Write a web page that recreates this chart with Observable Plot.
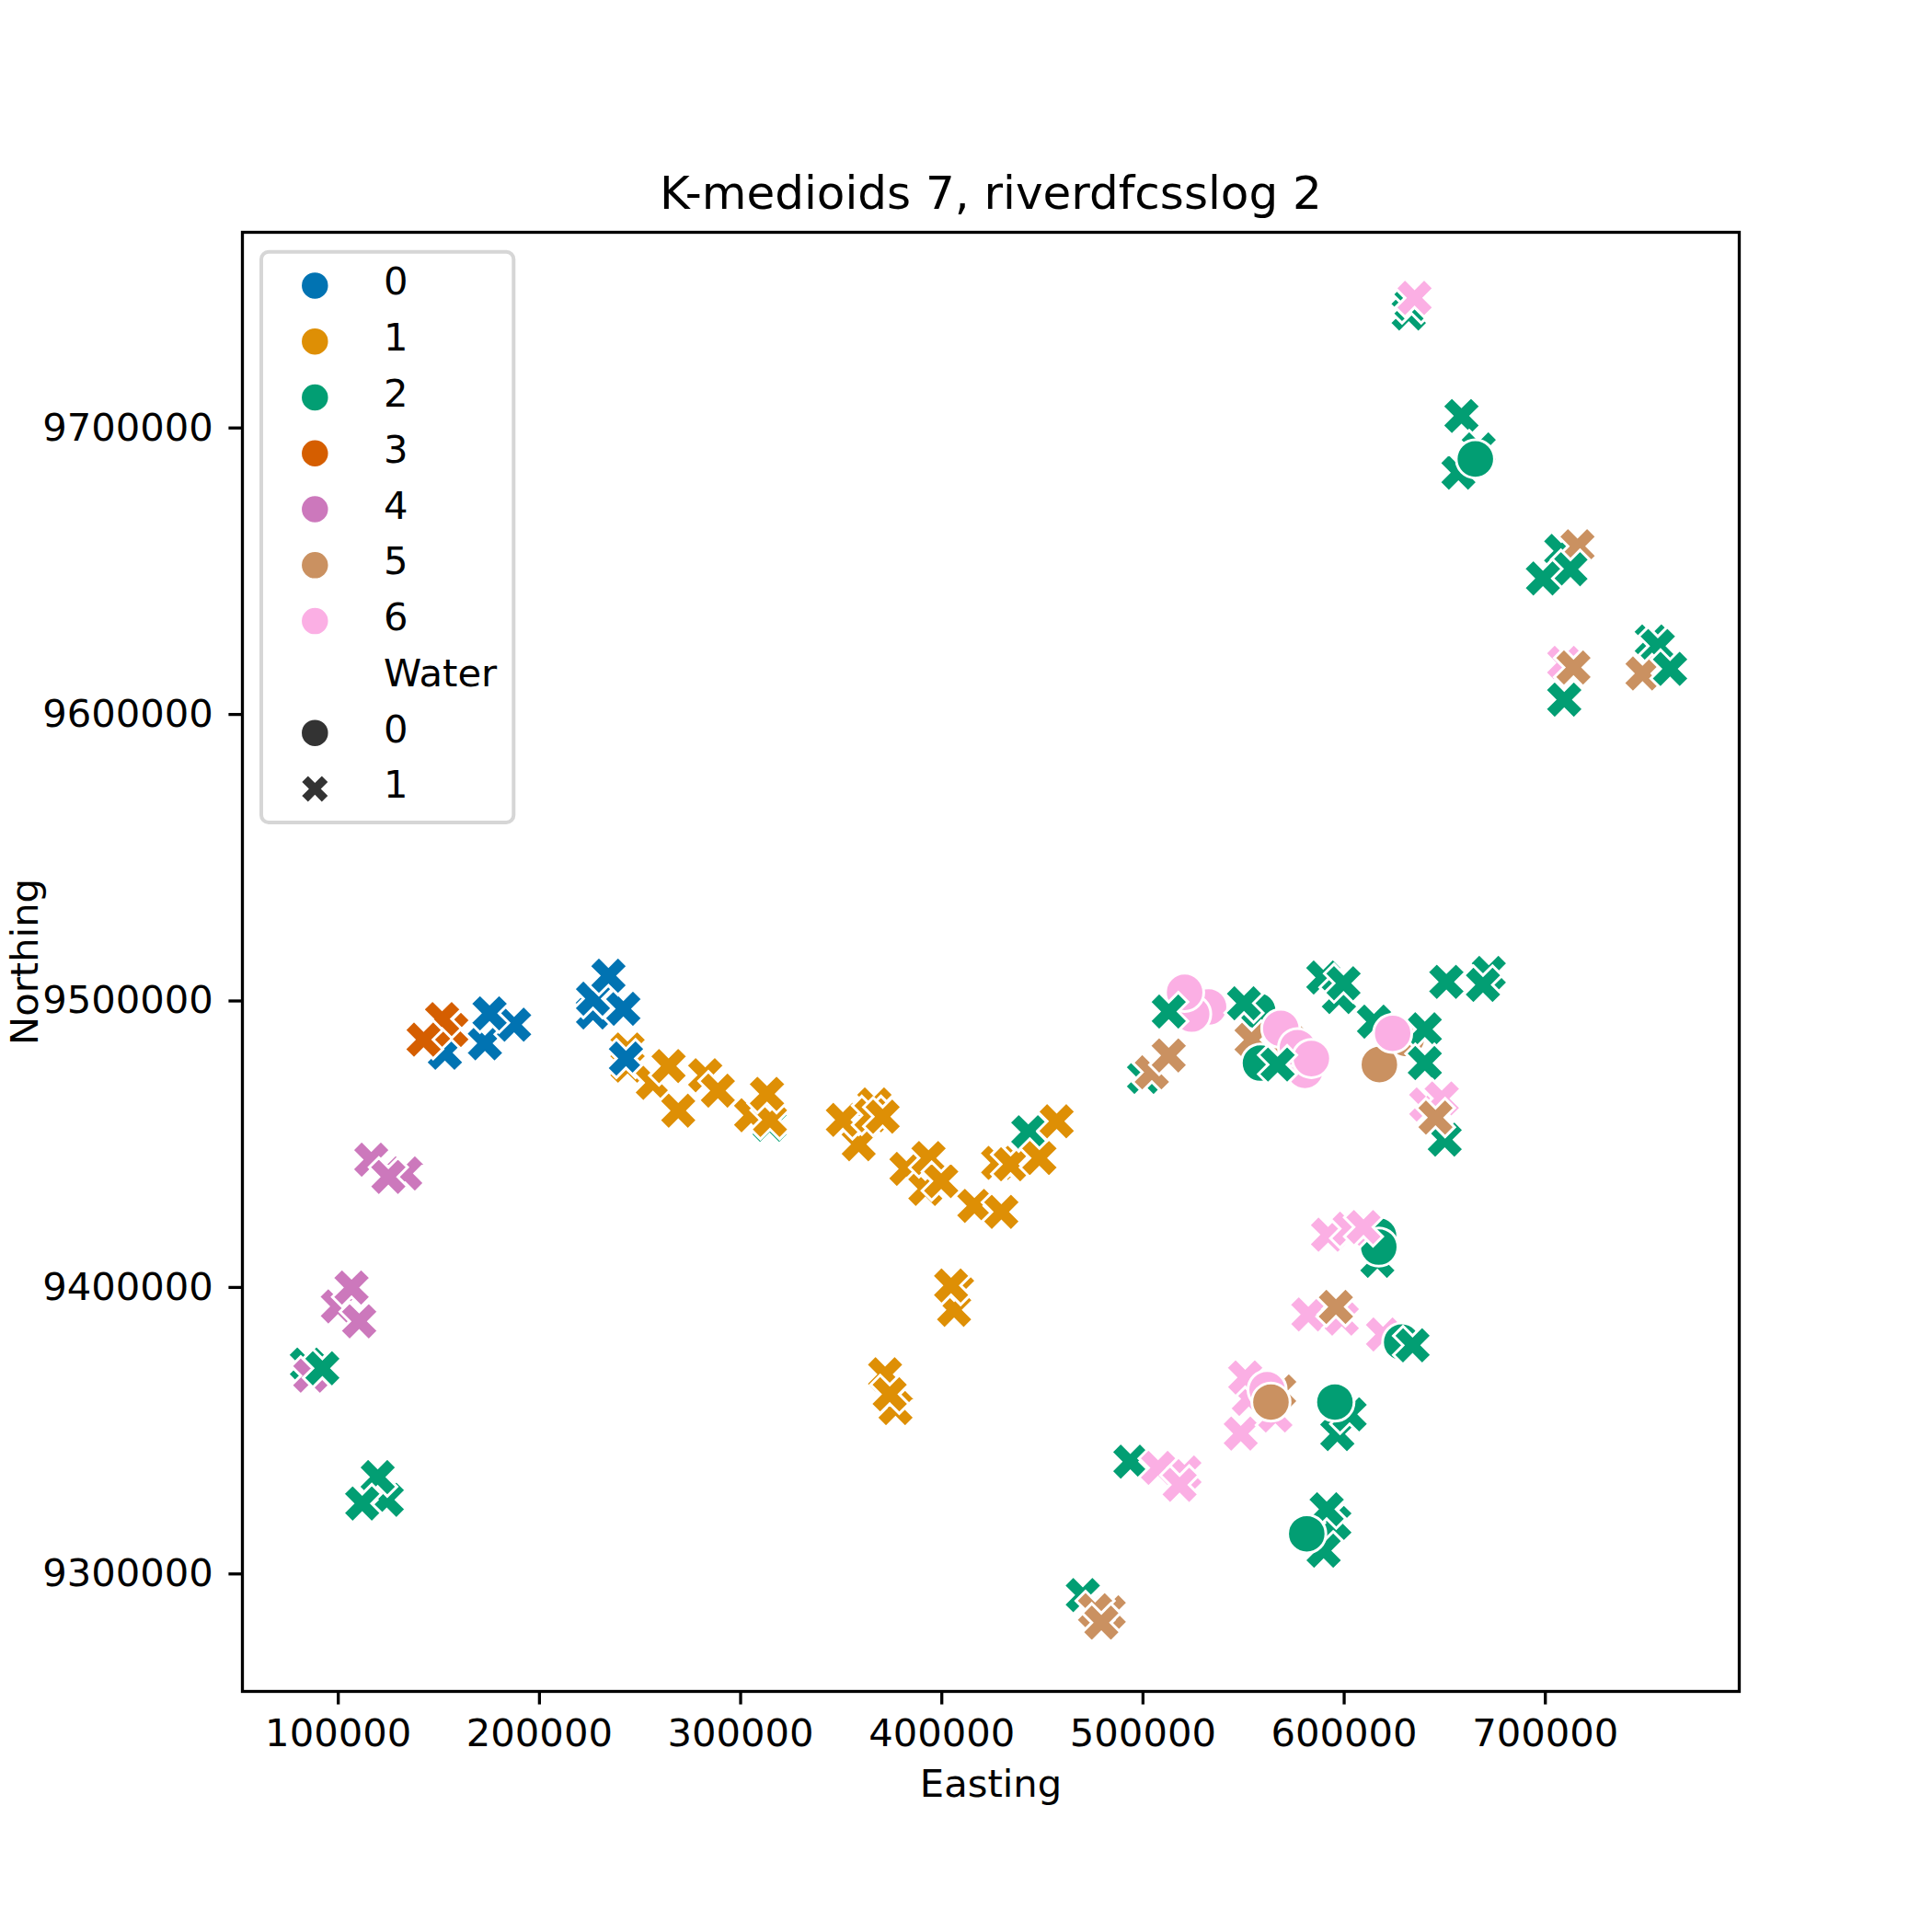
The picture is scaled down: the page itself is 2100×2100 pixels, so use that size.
<!DOCTYPE html>
<html>
<head>
<meta charset="utf-8">
<script src="https://cdn.jsdelivr.net/npm/d3@7"></script>
<script src="https://cdn.jsdelivr.net/npm/@observablehq/plot@0.6"></script>
<style>
  html, body { margin: 0; padding: 0; background: #fff; }
  #chart { width: 2100px; height: 2100px; }
</style>
</head>
<body>
<div id="chart"></div>
<script>
// Site coordinates (UTM easting / northing), cluster id and water flag per site.
const easting = [
  84400, 86100, 92100, 99800, 110400, 106600, 116400, 133300, 124900, 124100, 119600, 111900,
  153000, 156200, 151600, 142400, 172900, 187400, 175200, 226600, 226600, 241700, 234300,
  243800, 243800, 243000, 256400, 264200, 269000, 282400, 288700, 314400, 305200, 314600, 313100,
  366500, 358700, 350800, 365000, 370600, 382400, 391800, 393400, 399700, 416200, 429600, 428000,
  434200, 443000, 448500, 457100, 407600, 406100, 404600, 377000, 371800, 374100,
  470100, 483000, 476200, 479300,
  500500, 504400, 512800, 532600, 524200, 520700, 512800, 557000, 550200, 554000, 571300, 568500,
  558400, 580500, 576800, 583700, 566900, 589600, 597400, 599700, 650800, 671900, 669000, 614800,
  630900, 640100, 617500, 624100, 640100, 650000, 640800, 648500, 645400,
  616500, 617100, 617200, 592000, 602700, 609600, 582200, 598800, 595900, 619300, 628600, 634000,
  548600, 565800, 552600, 550800, 567700, 561700, 563600, 596600, 602700, 595400,
  493700, 520600, 507500, 518200, 595100, 589800, 591300, 581400,
  632100, 633500, 635000, 658300, 666900, 656800, 665200, 707900, 716000, 712500, 698800,
  709400, 714000, 709400, 752900, 755900, 748300, 762000
];
const northing = [
  9373100, 9369200, 9371800, 9393400, 9388200, 9400000, 9444600, 9439800, 9438600, 9325900, 9333800, 9324600,
  9481900, 9489900, 9493700, 9486500, 9485200, 9491700, 9495700, 9496000, 9500800, 9497300, 9508800,
  9483100, 9477400, 9479900, 9471400, 9477300, 9461700, 9474100, 9468700, 9456800, 9460100, 9458500, 9467600,
  9463900, 9450000, 9458500, 9460100, 9459600, 9441400, 9434400, 9445200, 9437100, 9428500, 9426400, 9443500,
  9443000, 9454200, 9445200, 9458000, 9399000, 9392200, 9400700, 9357900, 9369700, 9362700,
  9292600, 9286600, 9287300, 9283000,
  9473500, 9475100, 9481000, 9497900, 9495400, 9503000, 9496300, 9496600, 9499200, 9486400, 9487000, 9490400,
  9478300, 9475800, 9483700, 9479900, 9477800, 9508200, 9501400, 9506200, 9506700, 9509800, 9505600, 9492800,
  9486900, 9490100, 9477800, 9488700, 9478300, 9451600, 9463900, 9466000, 9459300,
  9409300, 9418000, 9414100, 9418400, 9420500, 9421100, 9390600, 9389100, 9393200, 9383600, 9380900, 9379800,
  9349000, 9355300, 9361100, 9368600, 9363700, 9364300, 9360000, 9348800, 9355700, 9360000,
  9339200, 9335400, 9337000, 9331100, 9317800, 9308100, 9322600, 9314000,
  9740000, 9743300, 9745400, 9704200, 9692500, 9684400, 9689200, 9657100, 9658700, 9650700, 9647500,
  9618000, 9616400, 9605200, 9625500, 9623900, 9614300, 9615900
];
const cluster = [
  2, 4, 2, 4, 4, 4, 4, 4, 4, 2, 2, 2,
  0, 3, 3, 3, 0, 0, 0, 0, 0, 0, 0,
  1, 1, 0, 1, 1, 1, 1, 1, 2, 1, 1, 1,
  1, 1, 1, 1, 1, 1, 1, 1, 1, 1, 1, 1,
  1, 2, 1, 1, 1, 1, 1, 1, 1, 1,
  2, 5, 5, 5,
  2, 5, 5, 6, 6, 6, 2, 2, 2, 5, 5, 6,
  2, 6, 6, 6, 2, 2, 2, 2, 2, 2, 2, 2,
  5, 2, 5, 6, 2, 2, 6, 6, 5,
  2, 2, 2, 6, 6, 6, 6, 6, 5, 6, 2, 2,
  6, 6, 6, 6, 5, 6, 5, 2, 2, 2,
  2, 6, 6, 6, 2, 2, 2, 2,
  2, 2, 6, 2, 2, 2, 2, 2, 5, 2, 2,
  6, 5, 2, 2, 2, 5, 2
];
const water = [
  1, 1, 1, 1, 1, 1, 1, 1, 1, 1, 1, 1,
  1, 1, 1, 1, 1, 1, 1, 1, 1, 1, 1,
  1, 1, 1, 1, 1, 1, 1, 1, 1, 1, 1, 1,
  1, 1, 1, 1, 1, 1, 1, 1, 1, 1, 1, 1,
  1, 1, 1, 1, 1, 1, 1, 1, 1, 1,
  1, 1, 1, 1,
  1, 1, 1, 0, 0, 0, 1, 0, 1, 1, 1, 0,
  0, 0, 0, 0, 1, 1, 1, 1, 1, 1, 1, 1,
  0, 1, 0, 0, 1, 1, 1, 1, 1,
  1, 0, 0, 1, 1, 1, 1, 1, 1, 1, 0, 1,
  1, 1, 1, 1, 1, 0, 0, 1, 1, 0,
  1, 1, 1, 1, 1, 1, 1, 0,
  1, 1, 1, 1, 1, 1, 0, 1, 1, 1, 1,
  1, 1, 1, 1, 1, 1, 1
];

const clusterLabels = ["0", "1", "2", "3", "4", "5", "6"];
const clusterColors = ["#0173b2", "#de8f05", "#029e73", "#d55e00", "#cc78bc", "#ca9161", "#fbafe4"];
const waterLabels = ["0", "1"];
const xTicks = [100000, 200000, 300000, 400000, 500000, 600000, 700000];
const yTicks = [9300000, 9400000, 9500000, 9600000, 9700000];
const title = "K-medioids 7, riverdfcsslog 2";

// Filled "X" marker spanning the same width as a circle of radius r.
const xFilled = {
  draw(context, size) {
    const r = Math.sqrt(size / Math.PI), h = r / 2;
    const pts = [[-h, -r], [0, -h], [h, -r], [r, -h], [h, 0], [r, h],
                 [h, r], [0, h], [-h, r], [-r, h], [-h, 0], [-r, -h]];
    context.moveTo(pts[0][0], pts[0][1]);
    for (let i = 1; i < pts.length; ++i) context.lineTo(pts[i][0], pts[i][1]);
    context.closePath();
  }
};

const sites = easting.map((e, i) => ({
  easting: e, northing: northing[i], cluster: cluster[i], water: water[i]
}));

const font = "DejaVu Sans, Verdana, sans-serif";
const num = d => String(d);

const plot = Plot.plot({
  width: 2100,
  height: 2100,
  marginLeft: 263,
  marginRight: 210,
  marginTop: 252,
  marginBottom: 262,
  style: {fontFamily: font, fontSize: "41.7px", background: "white", color: "black", overflow: "visible"},
  x: {domain: [52355, 796388]},
  y: {domain: [9258992, 9768304]},
  color: {type: "ordinal", domain: clusterLabels.map(Number), range: clusterColors},
  marks: [
    Plot.axisX({ticks: xTicks, tickFormat: num, tickSize: 14.6, tickPadding: 15.5, strokeWidth: 3.3, label: null}),
    Plot.axisY({ticks: yTicks, tickFormat: num, tickSize: 14.6, tickPadding: 17, strokeWidth: 3.3, label: null}),
    Plot.dot(sites, {
      x: "easting",
      y: "northing",
      fill: "cluster",
      symbol: d => d.water ? xFilled : d3.symbolCircle,
      r: 20.8,
      stroke: "white",
      strokeWidth: 3
    }),
    Plot.frame({stroke: "black", strokeWidth: 3.3}),
    Plot.text([title], {text: d => d, frameAnchor: "top", textAnchor: "middle", dy: -60.7, fontSize: 50}),
    Plot.text(["Easting"], {text: d => d, frameAnchor: "bottom", textAnchor: "middle", dy: 114}),
    Plot.text(["Northing"], {text: d => d, frameAnchor: "left", textAnchor: "middle", dx: -236, rotate: -90})
  ]
});

document.getElementById("chart").appendChild(plot);

// Legend box inside the upper-left corner of the axes: hue (cluster) then style (Water).
const legendRows = [
  ...clusterLabels.map((label, i) => ({label, color: clusterColors[i], symbol: d3.symbolCircle})),
  {label: "Water", color: null, symbol: null},
  ...waterLabels.map((label, i) => ({label, color: "#333333", symbol: i ? xFilled : d3.symbolCircle}))
];
const lg = d3.select(plot).append("g")
  .attr("font-family", font)
  .attr("font-size", 41.7)
  .attr("text-anchor", "start");
lg.append("rect")
  .attr("x", 284).attr("y", 273.7).attr("width", 274.3).attr("height", 620.3)
  .attr("rx", 8).attr("ry", 8)
  .attr("fill", "white").attr("fill-opacity", 0.8)
  .attr("stroke", "#cccccc").attr("stroke-opacity", 0.8).attr("stroke-width", 4);
const row = lg.selectAll("g.row").data(legendRows).join("g")
  .attr("class", "row")
  .attr("transform", (d, i) => `translate(0,${310.4 + i * 60.78})`);
row.filter(d => d.symbol)
  .append("path")
  .attr("transform", "translate(342.3,0)")
  .attr("d", d => d3.symbol(d.symbol, Math.PI * 15 * 15)())
  .attr("fill", d => d.color)
  .attr("stroke", "white")
  .attr("stroke-width", 1.5);
row.append("text")
  .attr("x", 417)
  .attr("y", 10)
  .attr("text-anchor", "start")
  .attr("fill", "black")
  .text(d => d.label);
</script>
</body>
</html>
